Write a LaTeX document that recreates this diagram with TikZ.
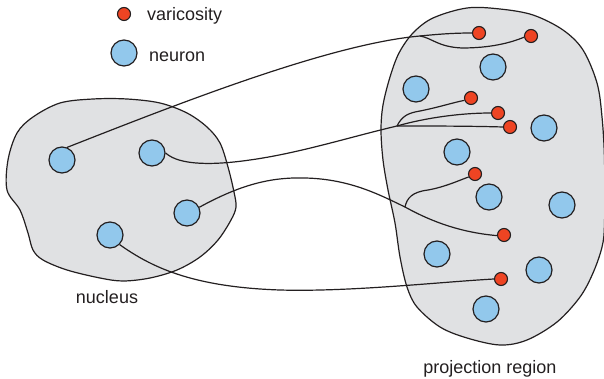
\documentclass[tikz,border=0pt]{standalone}
\usepackage{fontspec}
\setmainfont{Liberation Sans}
\pgfdeclarelayer{bg}
\pgfdeclarelayer{lines}
\pgfsetlayers{bg,lines,main}
\definecolor{blobgray}{RGB}{224,225,227}
\definecolor{neuronblue}{RGB}{146,200,236}
\definecolor{varred}{RGB}{238,68,35}
\definecolor{inkc}{RGB}{35,31,32}
\begin{document}
\begin{tikzpicture}[x=1pt,y=-1pt,
  blob/.style={fill=blobgray,draw=inkc,line width=1.2pt},
  neuron/.style={circle,fill=neuronblue,draw=inkc,line width=1.2pt,minimum size=26pt,inner sep=0pt},
  vari/.style={circle,fill=varred,draw=inkc,line width=1.1pt,minimum size=13pt,inner sep=0pt},
  axon/.style={draw=inkc,line width=1.2pt},
  lbl/.style={text=inkc,inner sep=0pt,font=\fontsize{18}{21}\selectfont}]
\useasboundingbox (0,0) rectangle (604,379);
% legend
\node[vari] (lv) at (124,14) {};
\node[lbl,anchor=base west] (lvt) at (147,21) {varicosity};
\node[neuron] (ln) at (124,53) {};
\node[lbl,anchor=base west] (lnt) at (149,61.5) {neuron};
% nucleus neurons
\node[neuron] (n1) at (62,160) {};
\node[neuron] (n2) at (152,153) {};
\node[neuron] (n3) at (187,213) {};
\node[neuron] (n4) at (110,235) {};
\node[lbl,anchor=base] (nucl) at (107,303) {nucleus};
% projection neurons
\node[neuron] (p1) at (493,67) {};
\node[neuron] (p2) at (416,89) {};
\node[neuron] (p3) at (544,128) {};
\node[neuron] (p4) at (457,152) {};
\node[neuron] (p5) at (489,197) {};
\node[neuron] (p6) at (562,205) {};
\node[neuron] (p7) at (437,254) {};
\node[neuron] (p8) at (539,270) {};
\node[neuron] (p9) at (486,309) {};
\node[lbl,anchor=base] (proj) at (490,373) {projection region};
% varicosities
\node[vari] (v1) at (479,33) {};
\node[vari] (v2) at (531,36) {};
\node[vari] (v3) at (471,98) {};
\node[vari] (v4) at (498,113) {};
\node[vari] (v5) at (510,127) {};
\node[vari] (v6) at (475,174) {};
\node[vari] (v7) at (504,235) {};
\node[vari] (v8) at (501,279) {};
% branch points
\coordinate (b1) at (420,36);
\coordinate (b2) at (397,126);
\coordinate (b3) at (405,207);
\begin{pgfonlayer}{bg}
\draw[blob] plot[smooth cycle,tension=0.55] coordinates {
 (7,190) (8,160) (17,133) (33,117) (60,103) (93,99) (127,99) (160,103)
 (187,113) (207,127) (220,143) (228,167) (234,192) (236,207) (231,220)
 (218,240) (200,257) (177,270) (150,278) (123,281) (100,278) (67,270)
 (43,260) (33,250) (28,233) (20,210)};
\draw[blob] plot[smooth cycle,tension=0.55] coordinates {
 (413,33) (433,18) (467,8) (500,9) (533,15) (563,30) (583,50) (597,83)
 (602,117) (604.5,160) (604.5,223) (602,247) (593,273) (580,297) (557,322)
 (527,340) (500,345) (467,338) (440,327) (417,307) (407,287) (400,257)
 (395,223) (388,190) (383,160) (381,130) (383,105) (390,77) (399,53)};
\end{pgfonlayer}
\begin{pgfonlayer}{lines}
% A
\draw[axon] (n1.68) .. controls (180,103) and (330,44) .. (b1);
\draw[axon] (b1) .. controls (440,34) and (455,33) .. (v1.west);
\draw[axon] (b1) .. controls (432,38) and (438,47) .. (462,48)
  .. controls (490,48) and (510,43) .. (v2.190);
% B
\draw[axon] (n2.east) .. controls (180,166) and (215,165) .. (250,160)
  .. controls (300,153) and (350,137) .. (b2);
\draw[axon] (b2) .. controls (402,116) and (408,113) .. (420,111)
  .. controls (440,107) and (455,102) .. (v3.200);
\draw[axon] (b2) .. controls (425,118) and (460,113) .. (v4.west);
\draw[axon] (b2) .. controls (430,126) and (470,126) .. (v5.west);
% C
\draw[axon] (n3.25) .. controls (240,185) and (270,177) .. (305,178)
  .. controls (350,179) and (380,195) .. (b3);
\draw[axon] (b3) .. controls (425,218) and (455,232) .. (v7.185);
\draw[axon] (b3) .. controls (407,198) and (412,192) .. (428,190)
  .. controls (445,187) and (460,180) .. (v6.205);
% D
\draw[axon] (n4.-45) .. controls (150,266) and (190,287) .. (280,290)
  .. controls (350,292) and (440,282) .. (v8.west);
\end{pgfonlayer}
\end{tikzpicture}
\end{document}
